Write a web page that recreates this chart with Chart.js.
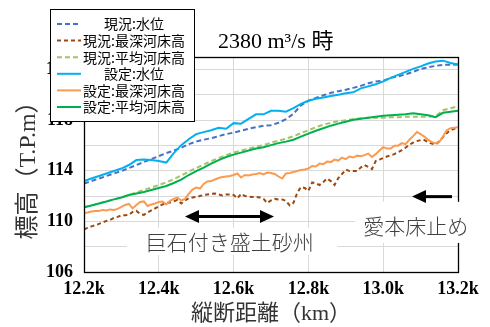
<!DOCTYPE html>
<html>
<head>
<meta charset="utf-8">
<script src="https://cdn.jsdelivr.net/npm/chart.js@4.4.0/dist/chart.umd.min.js"></script>
<style>
  html, body { margin: 0; padding: 0; background: #fff; }
</style>
</head>
<body>
<canvas id="profileChart" width="490" height="327"></canvas>
<script>
// distance along the channel (km)
const kmCoarse = [12.20,12.22,12.24,12.26,12.28,12.30,12.32,12.34,12.36,12.38,
  12.40,12.42,12.44,12.46,12.48,12.50,12.52,12.54,12.56,12.58,
  12.60,12.62,12.64,12.66,12.68,12.70,12.72,12.74,12.76,12.78,
  12.80,12.82,12.84,12.86,12.88,12.90,12.92,12.94,12.96,12.98,
  13.00,13.02,13.04,13.06,13.08,13.10,13.12,13.14,13.16,13.18,13.20];
const kmFine = [12.20,12.21,12.22,12.23,12.24,12.25,12.26,12.27,12.28,12.29,
  12.30,12.31,12.32,12.33,12.34,12.35,12.36,12.37,12.38,12.39,
  12.40,12.41,12.42,12.43,12.44,12.45,12.46,12.47,12.48,12.49,
  12.50,12.51,12.52,12.53,12.54,12.55,12.56,12.57,12.58,12.59,
  12.60,12.61,12.62,12.63,12.64,12.65,12.66,12.67,12.68,12.69,
  12.70,12.71,12.72,12.73,12.74,12.75,12.76,12.77,12.78,12.79,
  12.80,12.81,12.82,12.83,12.84,12.85,12.86,12.87,12.88,12.89,
  12.90,12.91,12.92,12.93,12.94,12.95,12.96,12.97,12.98,12.99,
  13.00,13.01,13.02,13.03,13.04,13.05,13.06,13.07,13.08,13.09,
  13.10,13.11,13.12,13.13,13.14,13.15,13.16,13.17,13.18,13.19,13.20];

// 現況 (existing) — elevations T.P.m
const waterNow = [113.00,113.19,113.39,113.59,113.79,113.98,114.22,114.46,114.69,114.93,
  115.16,115.40,115.60,115.83,116.11,116.31,116.46,116.58,116.74,116.90,
  117.02,117.17,117.33,117.45,117.57,117.61,117.80,118.08,118.51,119.18,
  119.54,119.77,119.97,120.17,120.29,120.41,120.56,120.72,120.92,121.07,
  121.11,121.35,121.47,121.63,121.82,122.06,122.18,122.30,122.38,122.38,122.41];
const bedDeepNow = [109.37,109.49,109.61,109.69,109.81,109.92,110.04,110.12,110.28,110.36,
  110.48,110.48,110.52,110.75,110.83,110.59,110.52,110.71,110.87,111.03,
  111.19,111.34,111.46,111.50,111.58,111.70,111.42,111.66,111.82,111.89,
  111.93,112.01,112.09,112.13,112.17,112.21,112.13,112.05,112.13,112.13,
  112.09,111.82,112.17,112.01,111.97,111.93,111.93,111.89,111.78,111.46,
  111.66,111.78,111.74,111.74,111.62,111.26,111.46,112.25,112.72,112.64,
  112.41,113.08,113.00,112.88,113.12,113.39,113.19,112.88,113.43,113.75,
  114.10,113.98,113.98,113.98,114.26,114.46,114.30,114.14,114.77,114.89,
  115.01,115.13,115.24,115.32,115.48,115.64,115.83,116.07,116.23,116.35,
  116.43,116.43,116.27,116.15,116.07,116.35,116.66,116.98,117.21,117.33,117.41];
const bedAvgNow = [111.11,111.26,111.42,111.58,111.74,111.89,112.09,112.29,112.49,112.68,
  112.88,113.08,113.35,113.63,113.94,114.22,114.49,114.77,115.01,115.24,
  115.44,115.60,115.76,115.91,116.03,116.23,116.39,116.54,116.74,116.98,
  117.21,117.45,117.65,117.80,117.92,118.00,118.08,118.16,118.20,118.20,
  118.20,118.24,118.24,118.28,118.28,118.28,118.28,118.32,118.79,118.95,119.10];

// 設定 (design)
const waterPlan = [113.19,113.39,113.59,113.79,113.98,114.18,114.46,114.85,114.89,114.85,
  114.77,114.65,115.40,116.03,116.50,116.90,117.06,117.21,117.41,117.33,
  117.77,117.73,118.10,118.47,118.47,118.75,118.75,118.67,118.95,119.30,
  119.54,119.70,119.80,119.92,120.01,120.13,120.21,120.52,120.68,120.84,
  121.07,121.35,121.59,121.82,122.06,122.26,122.49,122.65,122.71,122.53,122.41];
const bedDeepPlan = [110.67,110.71,110.79,110.83,110.83,110.91,110.87,110.95,110.91,110.99,
  111.15,111.30,111.38,111.03,111.30,111.54,111.58,111.22,111.34,111.42,
  111.54,111.58,111.34,111.62,111.78,111.89,111.66,111.78,112.17,112.52,
  112.68,112.60,112.96,113.16,113.19,113.31,113.43,113.51,113.55,113.59,
  113.67,113.79,113.47,113.67,113.63,113.71,113.75,113.83,113.71,113.86,
  113.83,113.75,113.55,113.39,113.79,113.83,113.90,113.98,114.06,114.10,
  114.18,114.38,114.34,114.57,114.53,114.73,114.69,114.89,114.81,115.05,
  114.93,115.13,115.05,115.20,115.16,115.24,115.36,115.09,115.32,115.60,
  115.87,115.76,115.76,115.99,115.99,116.19,116.11,116.46,116.74,117.06,
  116.90,116.70,116.46,116.27,116.19,116.27,116.74,117.21,117.37,117.41,117.45];
const bedAvgPlan = [111.11,111.26,111.42,111.58,111.74,111.89,112.09,112.21,112.33,112.49,
  112.64,112.80,113.04,113.31,113.67,113.98,114.26,114.57,114.85,115.09,
  115.28,115.44,115.60,115.76,115.87,116.03,116.19,116.31,116.46,116.70,
  116.94,117.17,117.37,117.57,117.73,117.88,118.04,118.12,118.20,118.28,
  118.36,118.40,118.43,118.47,118.55,118.47,118.40,118.24,118.59,118.67,118.75];

// axis ticks
const kmTicks = [12.2, 12.4, 12.6, 12.8, 13.0, 13.2];
const elevGrid = [106, 108, 110, 112, 114, 116, 118, 120, 122];
const elevLabels = [106, 110, 114, 118, 122];

const SERIF = '"Liberation Serif", "Noto Sans CJK JP", serif';
const GOTHIC = '"Noto Sans CJK JP", sans-serif';

const pairs = (xs, ys) => ys.map((y, i) => ({ x: xs[i], y: y }));

function series(label, xs, ys, color, dash, order) {
  return {
    label: label,
    data: pairs(xs, ys),
    borderColor: color,
    backgroundColor: color,
    borderWidth: 2,
    borderDash: dash,
    pointRadius: 0,
    tension: 0,
    fill: false,
    order: order
  };
}

// notes drawn on the plot, placed in km / elevation
const notes = [
  { text: '巨石付き盛土砂州', km: 12.59, elev: 108.4, box: [12.315, 12.877, 109.5, 107.35] },
  { text: '愛本床止め', km: 13.087, elev: 109.6, box: [12.925, 13.254, 111.55, 108.3] }
];
const arrows = [
  { from: 12.470, to: 12.708, elev: 110.38, both: true },
  { from: 13.184, to: 13.077, elev: 111.96, both: false }
];

function head(ctx, x, y, dir) {
  ctx.beginPath();
  ctx.moveTo(x, y);
  ctx.lineTo(x - dir * 14, y - 6.5);
  ctx.lineTo(x - dir * 14, y + 6.5);
  ctx.closePath();
  ctx.fill();
}

const decorations = {
  id: 'decorations',
  afterDraw(chart) {
    const ctx = chart.ctx;
    const a = chart.chartArea;
    const xs = chart.scales.x, ys = chart.scales.y;
    ctx.save();

    // plot frame
    ctx.strokeStyle = '#000';
    ctx.lineWidth = 1.3;
    ctx.setLineDash([]);
    ctx.strokeRect(Math.round(a.left) + 0.5, Math.round(a.top) + 0.5,
      Math.round(a.right - a.left), Math.round(a.bottom - a.top));

    // labelled regions
    notes.forEach(n => {
      const x1 = xs.getPixelForValue(n.box[0]), x2 = xs.getPixelForValue(n.box[1]);
      const y1 = ys.getPixelForValue(n.box[2]), y2 = ys.getPixelForValue(n.box[3]);
      ctx.fillStyle = '#fff';
      ctx.fillRect(x1, y1, x2 - x1, y2 - y1);
      ctx.fillStyle = '#404040';
      ctx.font = '300 21px ' + GOTHIC;
      ctx.textAlign = 'center';
      ctx.textBaseline = 'middle';
      ctx.fillText(n.text, xs.getPixelForValue(n.km), ys.getPixelForValue(n.elev));
    });

    ctx.fillStyle = '#000';
    ctx.strokeStyle = '#000';
    ctx.lineWidth = 3;
    arrows.forEach(ar => {
      const xa = xs.getPixelForValue(ar.from), xb = xs.getPixelForValue(ar.to);
      const y = ys.getPixelForValue(ar.elev);
      const dir = xb > xa ? 1 : -1;
      ctx.beginPath();
      ctx.moveTo(ar.both ? xa + dir * 12 : xa, y);
      ctx.lineTo(xb - dir * 12, y);
      ctx.stroke();
      head(ctx, xb, y, dir);
      if (ar.both) head(ctx, xa, y, -dir);
    });

    // title
    ctx.fillStyle = '#000';
    ctx.font = '22px ' + SERIF;
    ctx.textAlign = 'left';
    ctx.textBaseline = 'alphabetic';
    ctx.fillText('2380 m\u00B3/s 時', 218, 48);

    // legend
    const lx = 50.5, ly = 9.5, lw = 144, lh = 112;
    ctx.fillStyle = '#fff';
    ctx.fillRect(lx, ly, lw, lh);
    ctx.strokeStyle = '#000';
    ctx.lineWidth = 1;
    ctx.strokeRect(lx, ly, lw, lh);
    ctx.font = '14px ' + GOTHIC;
    ctx.textAlign = 'center';
    ctx.textBaseline = 'middle';
    chart.data.datasets.forEach((ds, i) => {
      const y = 24 + i * 16.6;
      ctx.strokeStyle = ds.borderColor;
      ctx.lineWidth = 2;
      ctx.setLineDash(ds.borderDash || []);
      ctx.beginPath();
      ctx.moveTo(57, y);
      ctx.lineTo(81, y);
      ctx.stroke();
      ctx.setLineDash([]);
      ctx.fillStyle = '#000';
      ctx.fillText(ds.label, 134, y);
    });
    ctx.restore();
  }
};

new Chart(document.getElementById('profileChart'), {
  type: 'line',
  data: {
    datasets: [
      series('現況:水位', kmCoarse, waterNow, '#4472C4', [5, 3], 2),
      series('現況:最深河床高', kmFine, bedDeepNow, '#9E480E', [4, 3], 2),
      series('現況:平均河床高', kmCoarse, bedAvgNow, '#A3C466', [5, 3], 2),
      series('設定:水位', kmCoarse, waterPlan, '#00B0F0', [], 1),
      series('設定:最深河床高', kmFine, bedDeepPlan, '#F99B50', [], 1),
      series('設定:平均河床高', kmCoarse, bedAvgPlan, '#00B050', [], 1)
    ]
  },
  options: {
    responsive: false,
    animation: false,
    layout: { padding: { top: 57, right: 32, left: 0, bottom: 0 } },
    plugins: {
      legend: { display: false },
      title: { display: false },
      tooltip: { enabled: false }
    },
    scales: {
      x: {
        type: 'linear',
        min: 12.2,
        max: 13.2,
        afterBuildTicks: s => { s.ticks = kmTicks.map(v => ({ value: v })); },
        afterFit: s => { s.height = 55; },
        ticks: {
          callback: v => v.toFixed(1) + 'k',
          font: { family: SERIF, size: 18, weight: 'bold' },
          color: '#000',
          padding: 7,
          maxRotation: 0
        },
        grid: { color: '#D9D9D9', drawTicks: false },
        border: { display: false },
        title: {
          display: true,
          text: '縦断距離（km）',
          font: { family: SERIF, size: 22 },
          color: '#333',
          padding: { top: 0, bottom: 0 }
        }
      },
      y: {
        min: 106,
        max: 123,
        afterBuildTicks: s => { s.ticks = elevGrid.map(v => ({ value: v })); },
        afterFit: s => { s.width = 84; },
        ticks: {
          callback: v => elevLabels.includes(v) ? v : '',
          font: { family: SERIF, size: 18, weight: 'bold' },
          color: '#000',
          padding: 11
        },
        grid: { color: '#D9D9D9', drawTicks: false },
        border: { display: false },
        title: {
          display: true,
          text: '標高（T.P.m）',
          font: { family: SERIF, size: 24 },
          color: '#333',
          padding: { top: 14, bottom: 0 }
        }
      }
    }
  },
  plugins: [decorations]
});
</script>
</body>
</html>
